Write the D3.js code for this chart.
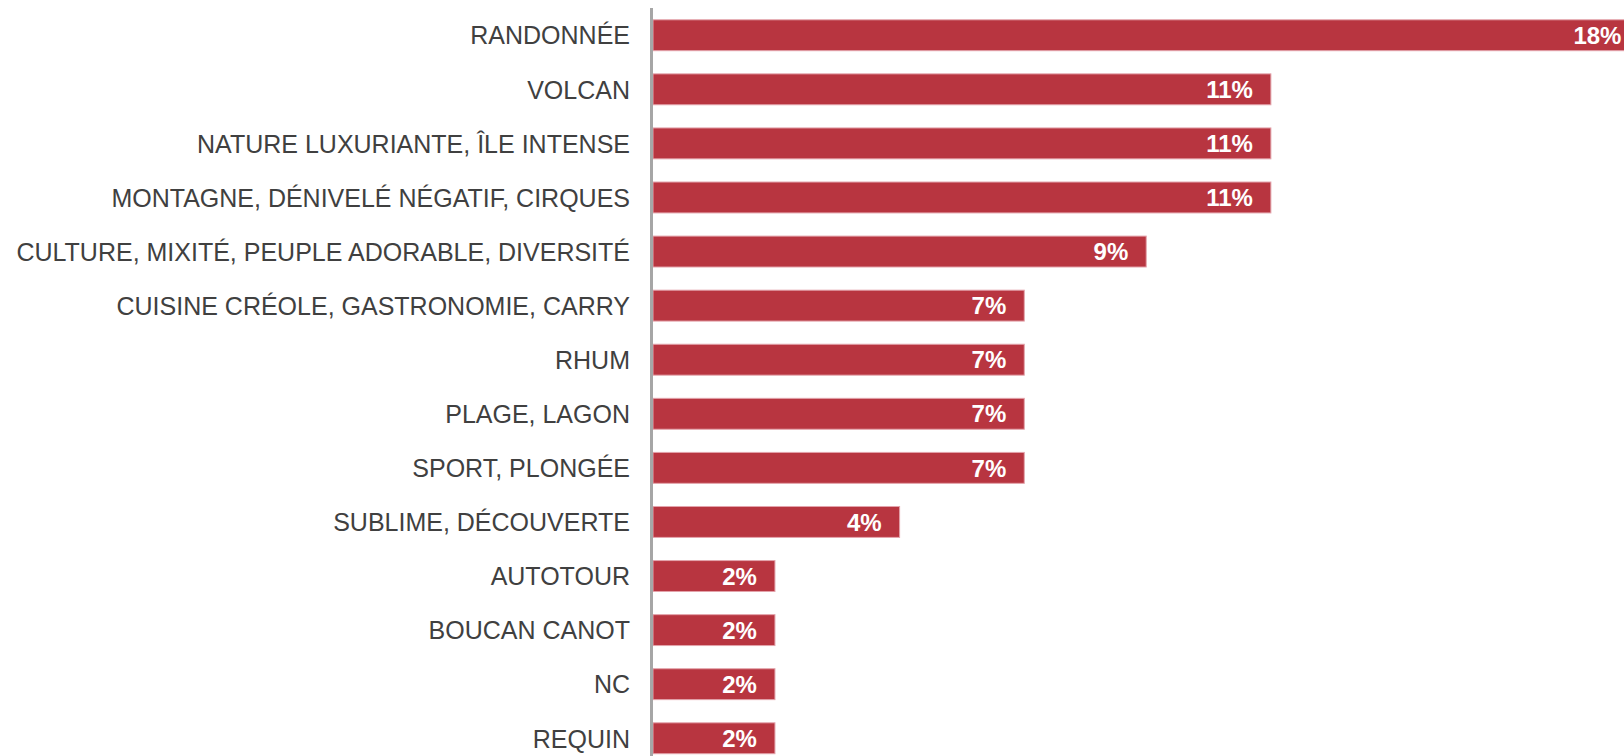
<!DOCTYPE html>
<html>
<head>
<meta charset="utf-8">
<script src="https://cdn.jsdelivr.net/npm/d3@7"></script>
<style>
  body { margin: 0; background: #fff; }
  svg { display: block; }
</style>
</head>
<body>
<script>
const categories = [
    "RANDONNÉE",
    "VOLCAN",
    "NATURE LUXURIANTE, ÎLE INTENSE",
    "MONTAGNE, DÉNIVELÉ NÉGATIF, CIRQUES",
    "CULTURE, MIXITÉ, PEUPLE ADORABLE, DIVERSITÉ",
    "CUISINE CRÉOLE, GASTRONOMIE, CARRY",
    "RHUM",
    "PLAGE, LAGON",
    "SPORT, PLONGÉE",
    "SUBLIME, DÉCOUVERTE",
    "AUTOTOUR",
    "BOUCAN CANOT",
    "NC",
    "REQUIN"
];
const values = [18.2, 11.4, 11.4, 11.4, 9.1, 6.85, 6.85, 6.85, 6.85, 4.55, 2.25, 2.25, 2.25, 2.25];
const valueLabels = ["18%", "11%", "11%", "11%", "9%", "7%", "7%", "7%", "7%", "4%", "2%", "2%", "2%", "2%"];

const width = 1624;
const height = 756;
const x0 = 653;

const data = categories.map((c, i) => ({ cat: c, value: values[i], label: valueLabels[i] }));

const svg = d3.select("body").append("svg")
    .attr("width", width)
    .attr("height", height);

const x = d3.scaleLinear()
    .domain([0, 20])
    .range([x0, x0 + 20 * 54.2]);

const y = d3.scaleBand()
    .domain(categories)
    .range([8.2, 765.3])
    .paddingInner(0.41)
    .paddingOuter(0.205);

svg.selectAll(".bar")
    .data(data)
    .join("rect")
    .attr("class", "bar")
    .attr("fill", "#b83540")
    .attr("stroke", "#e3a3ab")
    .attr("stroke-width", 1)
    .attr("x", x(0))
    .attr("y", d => y(d.cat) + 0.5)
    .attr("width", d => x(d.value) - x(0))
    .attr("height", y.bandwidth() - 1);

svg.selectAll(".value")
    .data(data)
    .join("text")
    .attr("class", "value")
    .attr("fill", "#fff")
    .attr("font-family", "Liberation Sans, Arial, sans-serif")
    .attr("font-weight", "bold")
    .attr("font-size", 24)
    .attr("text-anchor", "end")
    .attr("x", d => x(d.value) - 18)
    .attr("y", d => y(d.cat) + y.bandwidth() / 2)
    .attr("dy", "0.36em")
    .text(d => d.label);

svg.selectAll(".label")
    .data(data)
    .join("text")
    .attr("class", "label")
    .attr("fill", "#404040")
    .attr("font-family", "Liberation Sans, Arial, sans-serif")
    .attr("font-size", 25)
    .attr("text-anchor", "end")
    .attr("x", 630)
    .attr("y", d => y(d.cat) + y.bandwidth() / 2)
    .attr("dy", "0.37em")
    .text(d => d.cat);

// axe vertical
svg.append("line")
    .attr("stroke", "#a6a6a6")
    .attr("stroke-width", 3)
    .attr("x1", x(0) - 1.5)
    .attr("x2", x(0) - 1.5)
    .attr("y1", 8)
    .attr("y2", height);
</script>
</body>
</html>
